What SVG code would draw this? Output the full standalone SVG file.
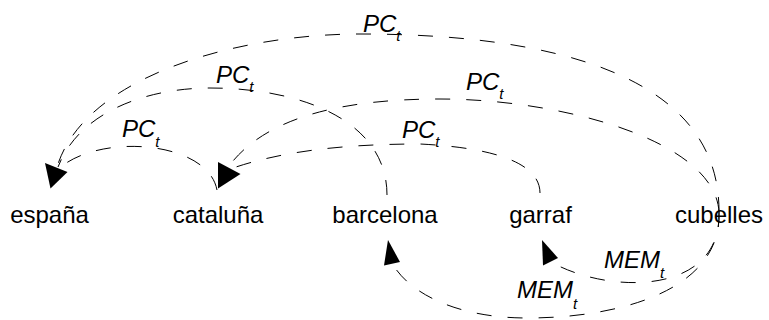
<svg xmlns="http://www.w3.org/2000/svg" width="769" height="320" viewBox="0 0 769 320">
<style>
.node{font-family:"Liberation Sans",Arial,sans-serif;font-size:24px;fill:#000;text-anchor:middle}
.lbl{font-family:"Liberation Sans",Arial,sans-serif;font-size:24px;font-style:italic;fill:#000}
.sub{font-size:15px}
.edge{fill:none;stroke:#000;stroke-width:1;stroke-dasharray:15 16}
.head{fill:#000;stroke:none}
</style>
<rect width="769" height="320" fill="#fff"/>
<g id="connectors">
  <g id="e-cubelles-espana">
    <path class="edge" d="M719,212 C720,70 540,34 360,34 C240,34 85,75 57,167"/>
    <text class="lbl" x="363" y="32">PC<tspan class="sub" dy="9">t</tspan></text>
  </g>
  <g id="e-barcelona-espana">
    <path class="edge" d="M387,195 C387,120 300,88 210,88 C150,88 80,110 58,167"/>
    <text class="lbl" x="216" y="83">PC<tspan class="sub" dy="9">t</tspan></text>
  </g>
  <g id="e-cataluna-espana">
    <path class="edge" d="M217,190 C208,142 105,133 62,166"/>
    <text class="lbl" x="122" y="137">PC<tspan class="sub" dy="10">t</tspan></text>
  </g>
  <g id="e-cubelles-cataluna">
    <path class="edge" d="M719,212 C715,140 560,99 440,99 C340,99 265,118 229,166"/>
    <text class="lbl" x="466" y="90">PC<tspan class="sub" dy="9">t</tspan></text>
  </g>
  <g id="e-garraf-cataluna">
    <path class="edge" d="M540,193 C540,165 500,148 420,144 C340,144 280,152 233,168"/>
    <text class="lbl" x="402" y="138">PC<tspan class="sub" dy="9">t</tspan></text>
  </g>
  <g id="e-cubelles-barcelona">
    <path class="edge" d="M719,212 C722,290 620,318 527,318 C460,318 410,295 392,263"/>
    <text class="lbl" x="517" y="298">MEM<tspan class="sub" dy="11">t</tspan></text>
  </g>
  <g id="e-cubelles-garraf">
    <path class="edge" d="M719,212 C722,295 610,295 551,262"/>
    <text class="lbl" x="604" y="268">MEM<tspan class="sub" dy="10">t</tspan></text>
  </g>
  <polygon class="head" points="45,163 67.5,172 50.5,188.5"/>
  <polygon class="head" points="218,162 240.5,174 218,188.5"/>
  <polygon class="head" points="388,240 400,262 384,265.5"/>
  <polygon class="head" points="542,240 558,258 543,265.5"/>
</g>
<g id="espana"><text class="node" x="49.5" y="223">españa</text></g>
<g id="cataluna"><text class="node" x="218" y="223">cataluña</text></g>
<g id="barcelona"><text class="node" x="385" y="223">barcelona</text></g>
<g id="garraf"><text class="node" x="540.5" y="223">garraf</text></g>
<g id="cubelles"><text class="node" x="719" y="223">cubelles</text></g>
</svg>
